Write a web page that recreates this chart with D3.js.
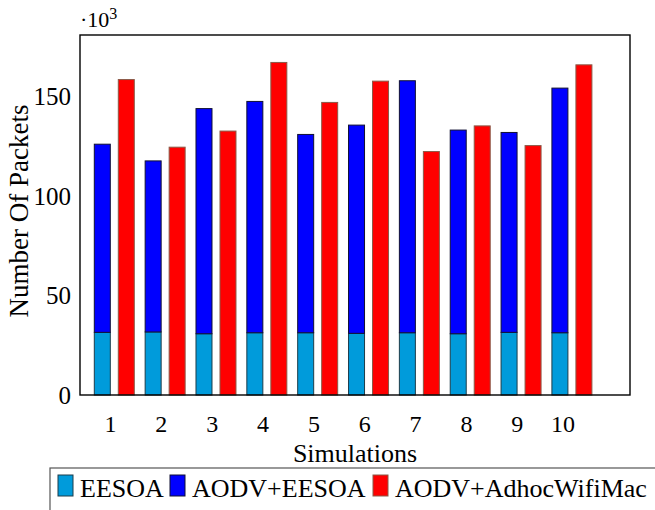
<!DOCTYPE html>
<html>
<head>
<meta charset="utf-8">
<script src="https://cdn.jsdelivr.net/npm/d3@7"></script>
</head>
<body style="margin:0;background:#fff">
<svg id="chart" width="655" height="510" font-family="Liberation Serif" style="display:block"></svg>
<script>
// ---- data (values in thousands of packets) ----
const categories = ["1", "2", "3", "4", "5", "6", "7", "8", "9", "10"];
const eesoa = [31.5, 31.7, 30.8, 31.3, 31.3, 31.0, 31.3, 30.8, 31.5, 31.3];
// stacked increment on top of EESOA
const aodvEesoa = [94.6, 86.0, 113.2, 116.3, 99.7, 104.7, 126.7, 102.4, 100.5, 123.0];
const aodvAdhoc = [158.6, 124.6, 132.7, 167.2, 147.1, 157.8, 122.4, 135.3, 125.4, 166.0];
const yTicks = [0, 50, 100, 150];
const seriesNames = ["EESOA", "AODV+EESOA", "AODV+AdhocWifiMac"];

const FONT = "Liberation Serif";
const colors = { eesoa: "#009bdb", aodvEesoa: "#0000ff", aodvAdhoc: "#ff0000" };
const strokes = { eesoa: "#1d3d4a", aodvEesoa: "#111133", aodvAdhoc: "#8a5a48" };

const svg = d3.select("#chart");
const L = 80, R = 630, T = 35, B = 395;

const idx = categories.map((c, i) => i + 1);
const x = d3.scaleLinear().domain([0.41, 11.227]).range([L, R]);
const y = d3.scaleLinear().domain([0, 181]).range([B, T]);

const barW = 16;
const blueShift = -7.7, redShift = 16.3;

const stackData = idx.map((i, k) => ({ i, e: eesoa[k], a: aodvEesoa[k], r: aodvAdhoc[k] }));

const g = svg.append("g");

g.selectAll("rect.eesoa").data(stackData).join("rect")
  .attr("x", d => x(d.i) + blueShift - barW / 2)
  .attr("y", d => y(d.e))
  .attr("width", barW)
  .attr("height", d => y(0) - y(d.e))
  .attr("fill", colors.eesoa).attr("stroke", strokes.eesoa).attr("stroke-width", 1);

g.selectAll("rect.aodvE").data(stackData).join("rect")
  .attr("x", d => x(d.i) + blueShift - barW / 2)
  .attr("y", d => y(d.e + d.a))
  .attr("width", barW)
  .attr("height", d => y(d.e) - y(d.e + d.a))
  .attr("fill", colors.aodvEesoa).attr("stroke", strokes.aodvEesoa).attr("stroke-width", 1);

g.selectAll("rect.adhoc").data(stackData).join("rect")
  .attr("x", d => x(d.i) + redShift - barW / 2)
  .attr("y", d => y(d.r))
  .attr("width", barW)
  .attr("height", d => y(0) - y(d.r))
  .attr("fill", colors.aodvAdhoc).attr("stroke", strokes.aodvAdhoc).attr("stroke-width", 1);

svg.append("rect").attr("x", L).attr("y", T).attr("width", R - L).attr("height", B - T)
  .attr("fill", "none").attr("stroke", "#000").attr("stroke-width", 1.4);

const yAxis = d3.axisLeft(y).tickValues(yTicks).tickSize(0).tickPadding(9).tickFormat(d3.format("d"));
const ya = svg.append("g").attr("transform", `translate(${L},0)`).call(yAxis);
ya.attr("font-family", FONT);
ya.select(".domain").remove();
ya.selectAll("text").attr("font-size", 25).attr("font-family", FONT).attr("fill", "#000");

const xAxis = d3.axisBottom(x).tickValues(idx).tickSize(0).tickPadding(20)
  .tickFormat((d, k) => categories[k]);
const xa = svg.append("g").attr("transform", `translate(0,${B})`).call(xAxis);
xa.attr("font-family", FONT);
xa.select(".domain").remove();
xa.selectAll("text").attr("font-size", 24).attr("font-family", FONT).attr("fill", "#000")
  .attr("dx", (d, k) => categories[k].length > 1 ? -5 : 0);

const mult = svg.append("text").attr("x", 80).attr("y", 27).attr("font-size", 22).attr("font-family", FONT);
mult.append("tspan").text("·10");
mult.append("tspan").attr("dy", -8).attr("font-size", 16).text("3");

svg.append("text").attr("x", (L + R) / 2).attr("y", 462).attr("text-anchor", "middle")
  .attr("font-size", 26).attr("font-family", FONT).text("Simulations");
svg.append("text").attr("transform", `translate(28,${211}) rotate(-90)`).attr("text-anchor", "middle")
  .attr("font-size", 27).attr("font-family", FONT).text("Number Of Packets");

svg.append("rect").attr("x", 50).attr("y", 468).attr("width", 640).attr("height", 60)
  .attr("fill", "#fff").attr("stroke", "#555").attr("stroke-width", 1.2);
const legendItems = [
  { name: seriesNames[0], fill: colors.eesoa, stroke: strokes.eesoa, bx: 58 },
  { name: seriesNames[1], fill: colors.aodvEesoa, stroke: strokes.aodvEesoa, bx: 170 },
  { name: seriesNames[2], fill: colors.aodvAdhoc, stroke: strokes.aodvAdhoc, bx: 373 }
];
const lg = svg.append("g");
legendItems.forEach(it => {
  lg.append("rect").attr("x", it.bx).attr("y", 475).attr("width", 15).attr("height", 21)
    .attr("fill", it.fill).attr("stroke", it.stroke).attr("stroke-width", 1);
  lg.append("text").attr("x", it.bx + 22).attr("y", 497).attr("font-size", 26)
    .attr("font-family", FONT).text(it.name);
});
</script>
</body>
</html>
